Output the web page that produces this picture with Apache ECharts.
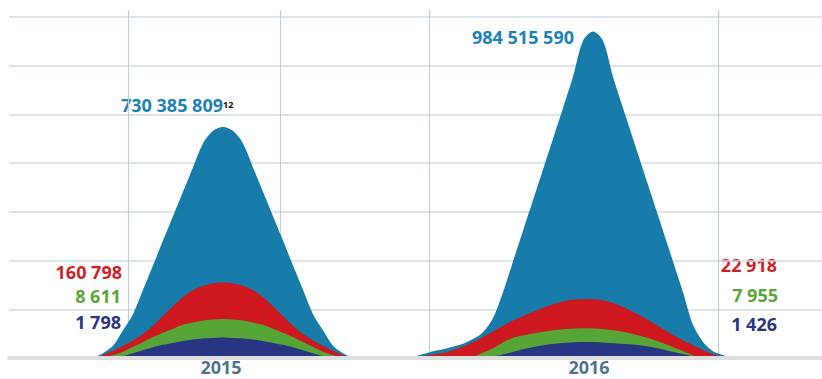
<!DOCTYPE html>
<html>
<head>
<meta charset="utf-8">
<style>
  html, body { margin: 0; padding: 0; background: #fff; }
  #chart { width: 822px; height: 379px; }
</style>
<script src="https://cdn.jsdelivr.net/npm/echarts@6/dist/echarts.min.js"></script>
</head>
<body>
<div id="chart"></div>
<script>
  // x: horizontal position (arbitrary units), y: curve height in grid units
  const years = ['2015', '2016'];
  const yearCenters = [21.2, 58.0];
  const vGridLines = [11.9, 27.1, 42.0, 70.9];

  const blue2015 = [[8.4, 0], [9.4, 0.10], [10.4, 0.25], [11.4, 0.57], [12.4, 0.90], [13.4, 1.40], [14.4, 1.90],
    [15.4, 2.41], [16.4, 2.91], [17.4, 3.41], [18.4, 3.91], [19.4, 4.40], [20.4, 4.66], [21.4, 4.74],
    [22.4, 4.66], [23.4, 4.40], [24.4, 3.91], [25.4, 3.41], [26.4, 2.91], [27.4, 2.41], [28.4, 1.90],
    [29.4, 1.40], [30.4, 0.90], [31.4, 0.57], [32.4, 0.25], [33.4, 0.10], [34.4, 0]];
  const red2015 = [[8.4, 0], [9.4, 0.06], [10.4, 0.15], [11.4, 0.25], [12.4, 0.36], [13.4, 0.49], [14.4, 0.66],
    [15.4, 0.86], [16.4, 1.06], [17.4, 1.25], [18.4, 1.39], [19.4, 1.48], [20.4, 1.53], [21.4, 1.55],
    [22.4, 1.53], [23.4, 1.48], [24.4, 1.39], [25.4, 1.25], [26.4, 1.06], [27.4, 0.86], [28.4, 0.66],
    [29.4, 0.49], [30.4, 0.36], [31.4, 0.25], [32.4, 0.15], [33.4, 0.06], [34.4, 0]];
  const green2015 = [[9.4, 0], [10.4, 0.06], [11.4, 0.13], [12.4, 0.23], [13.4, 0.33], [14.4, 0.43], [15.4, 0.52],
    [16.4, 0.60], [17.4, 0.68], [18.4, 0.73], [19.4, 0.77], [20.4, 0.79], [21.4, 0.80], [22.4, 0.79],
    [23.4, 0.77], [24.4, 0.73], [25.4, 0.68], [26.4, 0.60], [27.4, 0.52], [28.4, 0.43], [29.4, 0.33],
    [30.4, 0.23], [31.4, 0.13], [32.4, 0.06], [33.4, 0]];
  const navy2015 = [[10.4, 0], [11.4, 0.04], [12.4, 0.10], [13.4, 0.16], [14.4, 0.22], [15.4, 0.27], [16.4, 0.31],
    [17.4, 0.35], [18.4, 0.38], [19.4, 0.40], [20.4, 0.41], [21.4, 0.42], [22.4, 0.41], [23.4, 0.40],
    [24.4, 0.38], [25.4, 0.35], [26.4, 0.31], [27.4, 0.27], [28.4, 0.22], [29.4, 0.16], [30.4, 0.10],
    [31.4, 0.04], [32.4, 0]];

  const blue2016 = [[39.9, 0], [40.4, 0.02], [41.4, 0.08], [42.4, 0.14], [43.4, 0.18], [44.4, 0.23], [45.4, 0.29],
    [46.4, 0.39], [47.4, 0.53], [48.4, 0.82], [49.4, 1.35], [50.4, 1.98], [51.4, 2.61], [52.4, 3.24],
    [53.4, 3.87], [54.4, 4.50], [55.4, 5.13], [56.4, 5.77], [57.4, 6.51], [58.4, 6.70], [59.4, 6.51],
    [60.4, 5.77], [61.4, 5.13], [62.4, 4.50], [63.4, 3.87], [64.4, 3.24], [65.4, 2.61], [66.4, 1.98],
    [67.4, 1.35], [68.4, 0.68], [69.4, 0.33], [70.4, 0.14], [71.4, 0.06], [72.4, 0]];
  const red2016 = [[40.1, 0], [42.1, 0.06], [44.1, 0.14], [46.1, 0.29], [48.1, 0.51], [50.1, 0.74], [52.1, 0.92],
    [54.1, 1.08], [56.1, 1.19], [58.1, 1.21], [60.1, 1.15], [62.1, 0.98], [64.1, 0.76], [66.1, 0.51],
    [68.1, 0.29], [70.1, 0.10], [71.8, 0]];
  const green2016 = [[46.1, 0], [48.1, 0.17], [50.1, 0.39], [52.1, 0.49], [54.1, 0.56], [56.1, 0.60], [58.1, 0.61],
    [60.1, 0.58], [62.1, 0.51], [64.1, 0.40], [66.1, 0.25], [68.1, 0.08], [68.9, 0]];
  const navy2016 = [[47.8, 0], [50.1, 0.11], [52.1, 0.21], [54.1, 0.28], [56.1, 0.32], [58.1, 0.33], [60.1, 0.31],
    [62.1, 0.28], [64.1, 0.23], [66.1, 0.14], [68.1, 0.05], [68.9, 0]];

  const colors = { blue: '#177ca9', red: '#cc181e', green: '#57a536', navy: '#283583' };

  const chart = echarts.init(document.getElementById('chart'), null, { renderer: 'svg' });

  function area(data, color) {
    return {
      type: 'line',
      data: data,
      smooth: 0.3,
      symbol: 'none',
      silent: true,
      lineStyle: { width: 0, color: color },
      areaStyle: { color: color, opacity: 1 }
    };
  }

  const series = [
    area(blue2015, colors.blue), area(blue2016, colors.blue),
    area(red2015, colors.red), area(red2016, colors.red),
    area(green2015, colors.green), area(green2016, colors.green),
    area(navy2015, colors.navy), area(navy2016, colors.navy)
  ];

  // vertical grid lines, through the axis scales
  series[0].markLine = {
    silent: true,
    symbol: 'none',
    z: 1,
    label: { show: false },
    lineStyle: { color: '#c3cedb', width: 1.2, type: 'solid' },
    data: vGridLines.map(v => [{ coord: [v, 0] }, { coord: [v, 7.14] }])
  };

  // year labels under the baseline
  series.push({
    type: 'scatter',
    symbolSize: 0,
    silent: true,
    data: years.map((y, i) => ({ value: [yearCenters[i], 0], name: y })),
    label: {
      show: true,
      position: 'bottom',
      distance: 1,
      formatter: '{b}',
      fontFamily: 'Open Sans',
      fontWeight: 'bold',
      fontSize: 18,
      lineHeight: 16,
      color: '#1d4c74'
    }
  });

  const font = 'bold 18px "Open Sans"';
  function txt(x, y, text, fill, align) {
    return {
      type: 'text', x: x, y: y, silent: true,
      style: { text: text, font: font, fill: fill, textAlign: align, textVerticalAlign: 'middle' }
    };
  }

  chart.setOption({
    animation: false,
    grid: { left: 9, right: 0, top: 10, bottom: 21 },
    xAxis: {
      type: 'value', min: 0, max: 81.3, z: 5,
      axisLine: { show: true, lineStyle: { color: '#dedede', width: 4 } },
      axisTick: { show: false }, axisLabel: { show: false }, splitLine: { show: false }
    },
    yAxis: {
      type: 'value', min: 0, max: 7.14, interval: 1,
      axisLine: { show: false }, axisTick: { show: false }, axisLabel: { show: false },
      splitLine: { show: true, showMaxLine: false, lineStyle: { color: '#d3dbe5', width: 1.6 } }
    },
    series: series,
    graphic: [
      txt(121, 105, '730 385 809', '#1d82b6', 'left'),
      { type: 'text', x: 223, y: 104, silent: true,
        style: { text: '12', font: 'bold 9px "Open Sans"', fill: '#111', textAlign: 'left', textVerticalAlign: 'middle' } },
      txt(472, 37, '984 515 590', '#1d82b6', 'left'),
      txt(122, 271.5, '160 798', '#cf1f28', 'right'),
      txt(121, 296, '8 611', '#58a73a', 'right'),
      txt(121, 321.5, '1 798', '#2b3586', 'right'),
      txt(777, 264.5, '22 918', '#cf1f28', 'right'),
      txt(778, 295, '7 955', '#58a73a', 'right'),
      txt(777, 324, '1 426', '#2b3586', 'right')
    ]
  });
</script>
</body>
</html>
